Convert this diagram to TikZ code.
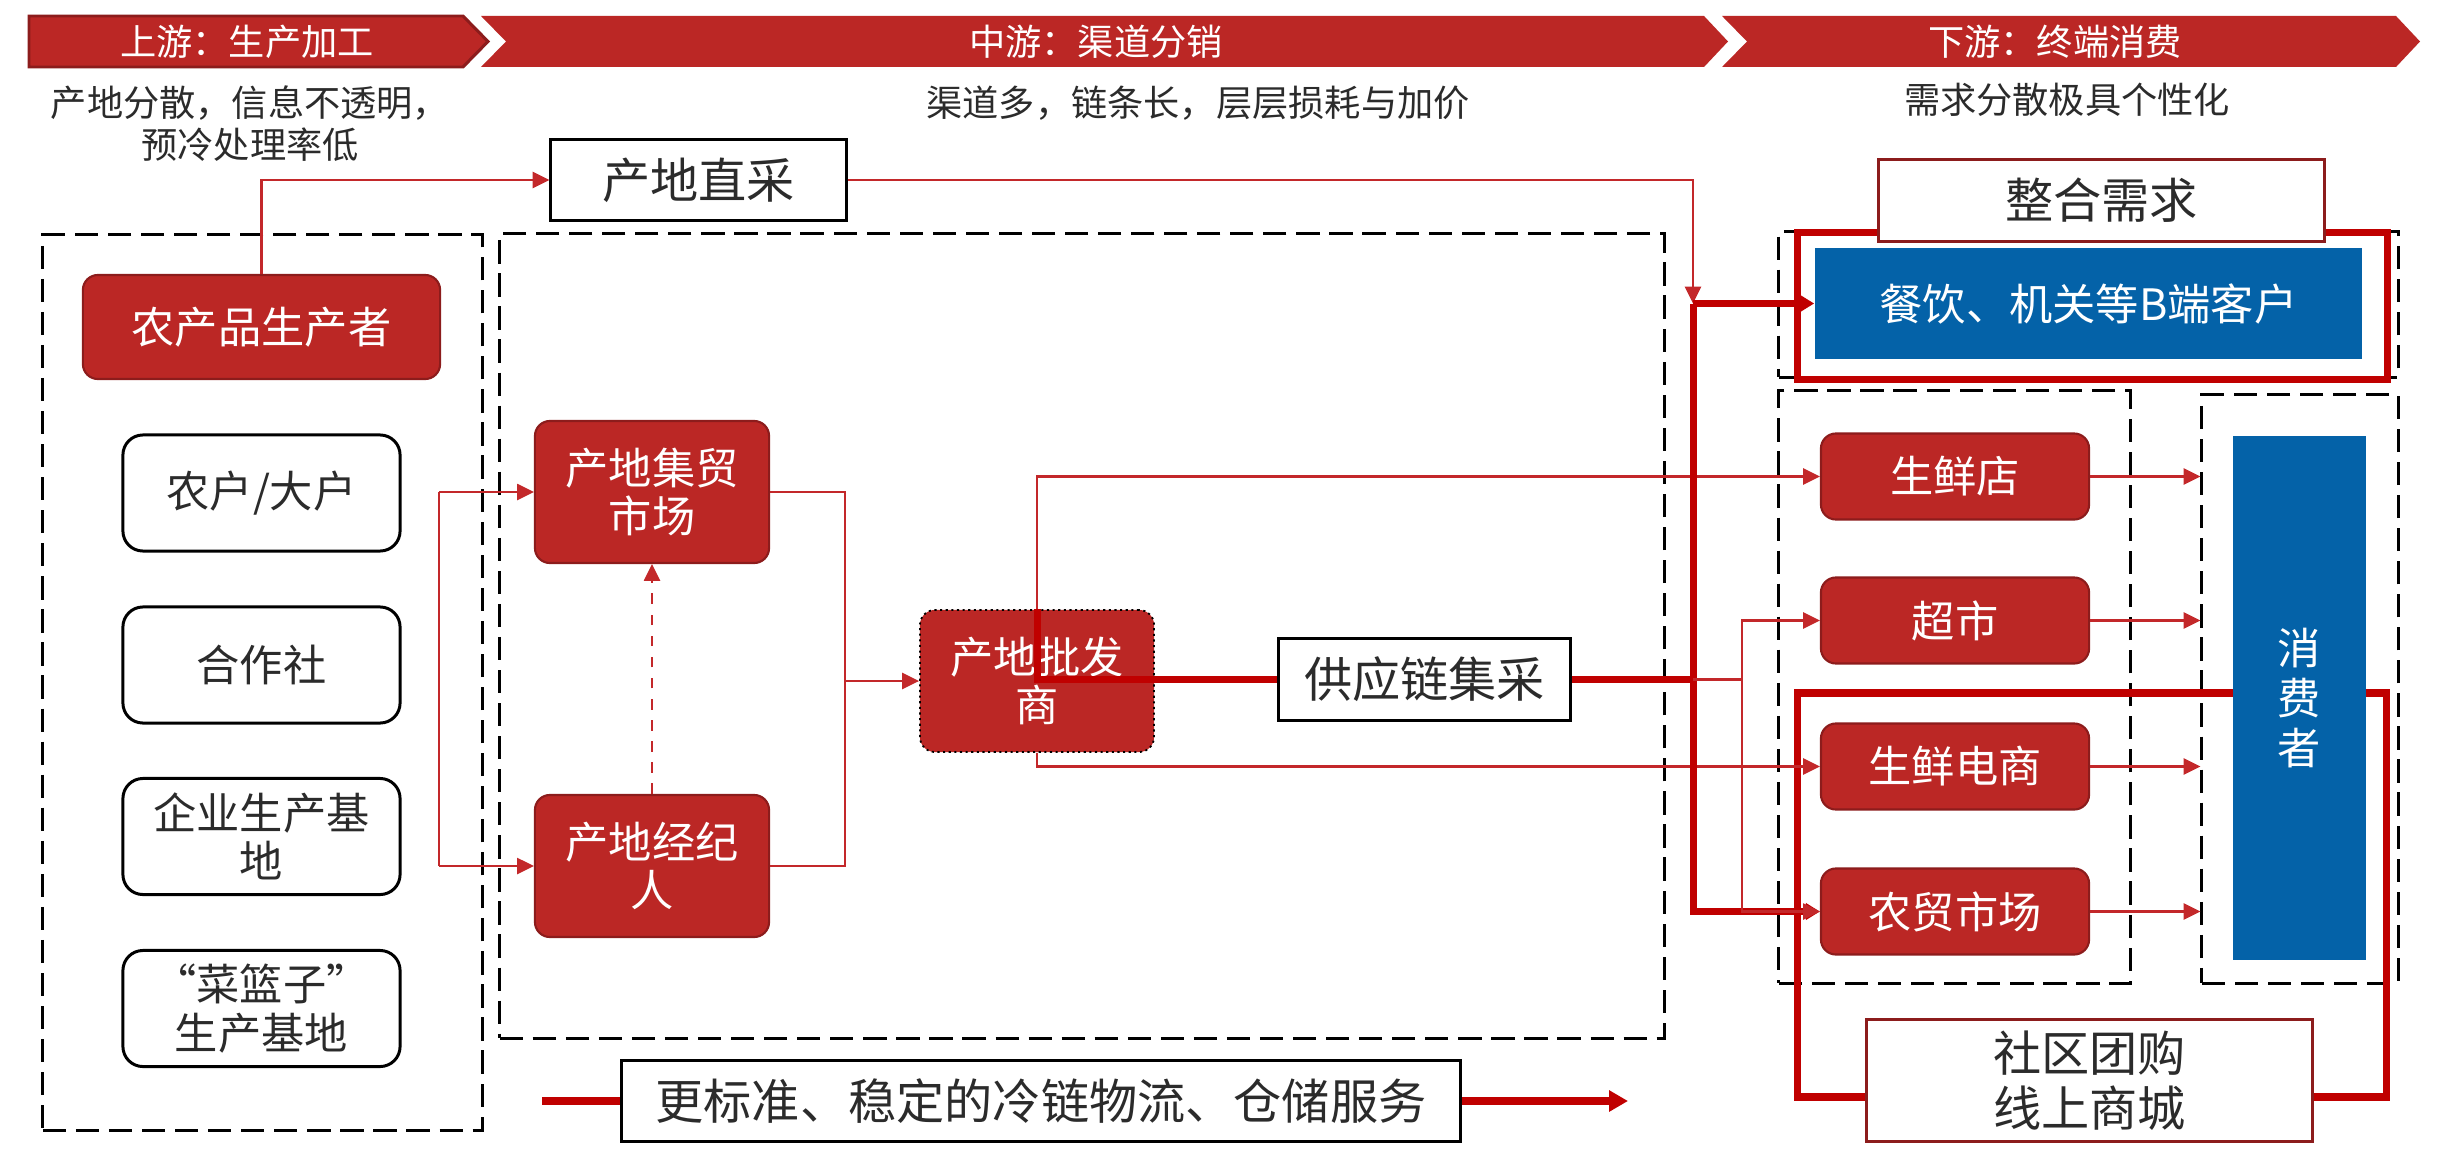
\documentclass[tikz,border=0pt]{standalone}
\usepackage{fontspec}
\setmainfont{Noto Sans CJK SC}
\usetikzlibrary{arrows.meta}

\definecolor{bannerred}{HTML}{BB2725}
\definecolor{bannerdark}{HTML}{8C1C1C}
\definecolor{nodered}{HTML}{BB2725}
\definecolor{linered}{HTML}{C00000}
\definecolor{thinred}{HTML}{C3282A}
\definecolor{custblue}{HTML}{0462A8}
\definecolor{txtgray}{HTML}{2B2B2B}

\newcommand{\hdsize}{\fontsize{10.3}{12}\selectfont}
\newcommand{\ndsize}{\fontsize{12.3}{13.7}\selectfont}
\newcommand{\lbsize}{\fontsize{13.7}{15.6}\selectfont}

\begin{document}
\begin{tikzpicture}[x=0.01cm, y=-0.01cm]
\useasboundingbox (0,0) rectangle (2452,1170);

\tikzset{redbox/.style = {draw=bannerdark, line width=0.6pt, fill=nodered, rounded corners=0.15cm, text=white, font=\ndsize, align=center, inner sep=0pt, minimum width=2.34cm, minimum height=1.42cm}}
\tikzset{shopbox/.style = {redbox, minimum width=2.68cm, minimum height=0.86cm}}
\tikzset{srcbox/.style = {draw=black, line width=0.85pt, fill=white, rounded corners=0.2cm, text=txtgray, font=\ndsize, align=center, inner sep=0pt, minimum width=2.77cm, minimum height=1.16cm}}
\tikzset{tagbox/.style = {draw=black, line width=0.85pt, fill=white, text=txtgray, font=\lbsize, align=center, inner sep=0pt}}
\tikzset{dashbox/.style = {draw=black, line width=0.85pt, dash pattern=on 6.6pt off 2.8pt, inner sep=0pt}}
\tikzset{bluebox/.style = {fill=custblue, text=white, font=\ndsize, align=center, inner sep=0pt}}
\tikzset{note/.style = {text=txtgray, font=\hdsize, align=center}}
\tikzset{thinline/.style = {draw=thinred, line width=0.6pt, > = {Triangle[length=4.8pt,width=4.6pt]}}}
\tikzset{bigline/.style = {draw=linered, line width=2pt, > = {Triangle[length=4pt,width=4.6pt]}}}

% banners
\filldraw[fill=bannerred, draw=bannerdark, line width=0.85pt] (29,16) -- (463,16) -- (488,41.5) -- (463,67) -- (29,67) -- cycle;
\fill[bannerred] (481,16) -- (1704,16) -- (1728,41.5) -- (1704,67) -- (481,67) -- (506,41.5) -- cycle;
\fill[bannerred] (1722,16) -- (2396,16) -- (2420,41.5) -- (2396,67) -- (1722,67) -- (1747,41.5) -- cycle;
\node[text=white, font=\hdsize] (upt) at (247,41.5) {上游：生产加工};
\node[text=white, font=\hdsize] (midt) at (1096,41.5) {中游：渠道分销};
\node[text=white, font=\hdsize] (downt) at (2055,41.5) {下游：终端消费};

\node[note] (upnote) at (250,124) {产地分散，信息不透明，\\预冷处理率低};
\node[note] (midnote) at (1198,103) {渠道多，链条长，层层损耗与加价};
\node[note] (downnote) at (2067,100) {需求分散极具个性化};

% dashed groups
\node[dashbox, minimum width=4.39cm, minimum height=8.95cm] (upbox) at (262.5,682.5) {};
\node[dashbox, minimum width=11.64cm, minimum height=8.04cm] (midbox) at (1082,636) {};
\node[dashbox, minimum width=6.19cm, minimum height=1.45cm] (bbox) at (2088.5,304.5) {};
\node[dashbox, minimum width=3.51cm, minimum height=5.92cm] (retbox) at (1954.5,687) {};
\node[dashbox, minimum width=1.96cm, minimum height=5.88cm] (conbox) at (2300,689) {};

% upstream
\node[redbox, minimum width=3.57cm, minimum height=1.04cm] (ncp) at (261.5,327) {农产品生产者};
\node[srcbox] (nh) at (261.5,493) {农户/大户};
\node[srcbox] (hzs) at (261.5,665) {合作社};
\node[srcbox] (qy) at (261.5,836.5) {企业生产基\\地};
\node[srcbox] (clz) at (261.5,1008.5) {“菜篮子”\\生产基地};

% midstream
\node[tagbox, minimum width=2.95cm, minimum height=0.8cm] (zc) at (698.5,180) {产地直采};
\node[redbox] (jm) at (652,492) {产地集贸\\市场};
\node[redbox] (jjr) at (652,866) {产地经纪\\人};
\node[redbox, draw=black, densely dotted, line width=0.5pt] (pfs) at (1037,681) {产地批发\\商};
\node[tagbox, minimum width=2.91cm, minimum height=0.81cm] (gyl) at (1424.5,679.5) {供应链集采};
\node[tagbox, minimum width=8.38cm, minimum height=0.8cm] (wl) at (1041,1101) {更标准、稳定的冷链物流、仓储服务};

% downstream
\node[draw=linered, line width=2pt, inner sep=0pt, minimum width=5.89cm, minimum height=1.46cm] (bframe) at (2092.5,306) {};
\node[bluebox, minimum width=5.47cm, minimum height=1.11cm] (cy) at (2088.5,303.5) {餐饮、机关等B端客户};
\node[tagbox, draw=bannerdark, minimum width=4.45cm, minimum height=0.81cm] (zh) at (2101.5,200.5) {整合需求};
\node[shopbox] (sxd) at (1955,476.5) {生鲜店};
\node[shopbox] (cs) at (1955,620.5) {超市};
\node[shopbox] (sxds) at (1955,766.5) {生鲜电商};
\node[shopbox] (nm) at (1955,911.5) {农贸市场};
\node[tagbox, draw=bannerdark, minimum width=4.45cm, minimum height=1.21cm, font=\fontsize{13.7}{15.8}\selectfont] (sq) at (2089.5,1080.5) {社区团购\\线上商城};

% community loop (under the consumer box)
\coordinate (lpl) at (1797,693);
\coordinate (lpr) at (2386,693);
\coordinate (lpb) at (0,1097);
\draw[bigline] (sq.west |- lpb) -| (lpl) -- (lpr) |- (sq.east |- lpb);
\node[bluebox, minimum width=1.33cm, minimum height=5.24cm, font=\fontsize{12.3}{14.2}\selectfont] (xfz) at (2299.5,698) {消\\费\\者};

% junctions
\coordinate (brkt) at (439,492);
\coordinate (brkb) at (439,866);
\coordinate (rbk) at (845,681);
\coordinate (hubtop) at (1693,303.5);
\coordinate (hubmid) at (1693,679.5);
\coordinate (fork) at (1742,679.5);
\coordinate (wls) at (542,1101);
\coordinate (wle) at (1628,1101);

% edges
\draw[thinline, ->] (ncp.north) |- (zc.west);
\draw[thinline, ->] (zc.east) -| (hubtop);
\draw[thinline] (brkt) -- (brkb);
\draw[thinline, ->] (brkt) -- (jm.west);
\draw[thinline, ->] (brkb) -- (jjr.west);
\draw[thinline, dashed, ->] (jjr.north) -- (jm.south);
\draw[thinline] (jm.east) -| (rbk);
\draw[thinline] (jjr.east) -| (rbk);
\draw[thinline, ->] (rbk) -- (pfs.west);
\draw[thinline, ->] (pfs.north) |- (sxd.west);
\draw[thinline, ->] (pfs.south) |- (sxds.west);
\draw[bigline] (pfs.north) |- (gyl.west);
\draw[bigline] (gyl.east) -- (hubmid);
\draw[bigline, ->] (hubtop) -- (cy.west);
\draw[bigline, ->] (hubtop) |- (nm.west);
\draw[thinline, ->] (hubmid) -- (fork) |- (cs.west);
\draw[thinline, ->] (fork) |- (nm.west);
\draw[thinline, ->] (sxd.east) -- (sxd.east -| conbox.west);
\draw[thinline, ->] (cs.east) -- (cs.east -| conbox.west);
\draw[thinline, ->] (sxds.east) -- (sxds.east -| conbox.west);
\draw[thinline, ->] (nm.east) -- (nm.east -| conbox.west);
\draw[bigline, line width=2.3pt] (wls) -- (wl.west);
\draw[bigline, line width=2.3pt, > = {Triangle[length=5.4pt,width=5.8pt]}, ->] (wl.east) -- (wle);
\end{tikzpicture}
\end{document}
